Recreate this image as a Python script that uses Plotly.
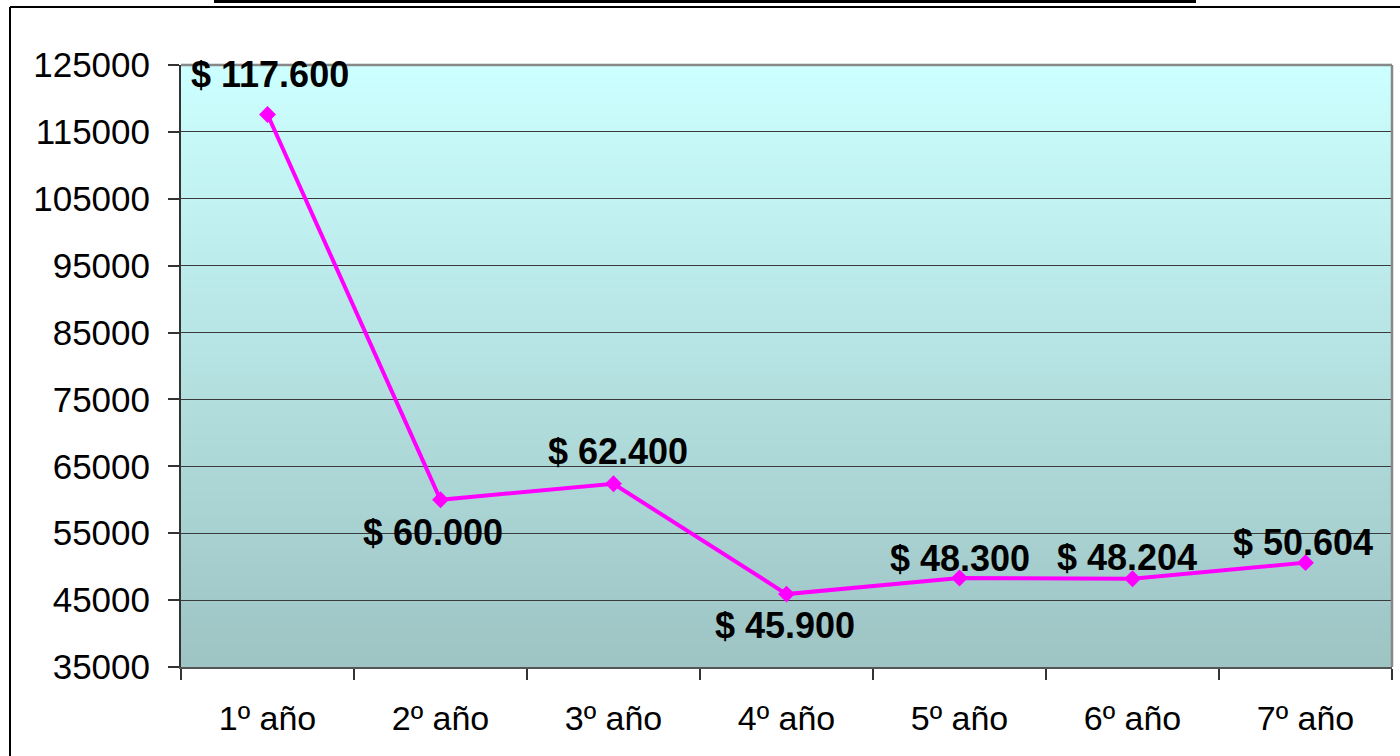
import plotly.graph_objects as go

# Chart data
categories = ["1º año", "2º año", "3º año", "4º año", "5º año", "6º año", "7º año"]
values = [117600, 60000, 62400, 45900, 48300, 48204, 50604]
labels = ["$ 117.600", "$ 60.000", "$ 62.400", "$ 45.900", "$ 48.300", "$ 48.204", "$ 50.604"]
y_ticks = [35000, 45000, 55000, 65000, 75000, 85000, 95000, 105000, 115000, 125000]

# per-label pixel offsets from its point (x, y up)
label_dx = [2, -8, 4, -2, 0, -6, -3]
label_dy = [40, -33, 32, -31, 20, 21, 20]

W, H = 1400, 756
M_L, M_R, M_T, M_B = 181, 8, 65, 89
PW = W - M_L - M_R
PH = H - M_T - M_B


def px_x(px):
    return (px - M_L) / PW


def px_y(py):
    return (H - M_B - py) / PH


fig = go.Figure()
fig.add_trace(go.Scatter(
    x=categories, y=values, mode="lines+markers",
    line=dict(color="#FF00FF", width=4),
    marker=dict(symbol="diamond", size=13, color="#FF00FF"),
    showlegend=False, hoverinfo="skip",
))

annotations = []
for cat, val, lab, dx, dy in zip(categories, values, labels, label_dx, label_dy):
    annotations.append(dict(
        x=cat, y=val, text=lab, showarrow=False, xanchor="center", yanchor="middle",
        xshift=dx, yshift=dy,
        font=dict(family="Liberation Sans, Arial", size=36, color="black", weight="bold"),
    ))

shapes = []
# vertical gradient in the plot area (light cyan to grey teal)
top_c = (204, 255, 255)
bot_c = (158, 196, 196)
n = 120
for i in range(n):
    t = i / (n - 1)
    c = tuple(round(top_c[k] + (bot_c[k] - top_c[k]) * t) for k in range(3))
    shapes.append(dict(type="rect", xref="x domain", yref="y domain",
                       x0=0, x1=1, y0=1 - (i + 1) / n, y1=1 - i / n + 0.002,
                       fillcolor="rgb(%d,%d,%d)" % c, line_width=0, layer="below"))
# plot area frame (top and right)
shapes.append(dict(type="line", xref="x domain", yref="y domain", x0=0, x1=1, y0=1, y1=1,
                   line=dict(color="#888888", width=2.5), layer="above"))
shapes.append(dict(type="line", xref="x domain", yref="y domain", x0=1, x1=1, y0=0, y1=1,
                   line=dict(color="#888888", width=2.5), layer="above"))
# outer chart border
shapes.append(dict(type="line", xref="paper", yref="paper",
                   x0=px_x(10), x1=px_x(10), y0=px_y(7), y1=px_y(770),
                   line=dict(color="black", width=2)))
shapes.append(dict(type="line", xref="paper", yref="paper",
                   x0=px_x(10), x1=px_x(1420), y0=px_y(7), y1=px_y(7),
                   line=dict(color="black", width=2)))
# title underline bar at the top edge
shapes.append(dict(type="rect", xref="paper", yref="paper",
                   x0=px_x(214), x1=px_x(1196), y0=px_y(3), y1=px_y(-3),
                   fillcolor="black", line_width=0))

fig.update_layout(
    width=W, height=H,
    margin=dict(l=M_L, r=M_R, t=M_T, b=M_B),
    paper_bgcolor="white", plot_bgcolor="#B5E0E0",
    font=dict(family="Liberation Sans, Arial", size=34, color="black"),
    shapes=shapes, annotations=annotations,
    xaxis=dict(type="category", showgrid=False, zeroline=False,
               ticks="outside", tickson="boundaries", ticklen=11, tickwidth=1.5,
               tickcolor="#333333", showline=True, linecolor="#555555", linewidth=2,
               tickfont=dict(size=34), range=[-0.5, 6.5], ticklabelstandoff=20),
    yaxis=dict(range=[35000, 125000], tickvals=y_ticks, ticks="outside", ticklen=11,
               tickwidth=1.5, tickcolor="#333333", showgrid=True, gridcolor="#3a3a3a",
               gridwidth=1.2, zeroline=False, showline=True, linecolor="#333333",
               linewidth=2, tickfont=dict(size=35), tickformat="d", ticklabelstandoff=11),
)

fig.write_html("out.html")
